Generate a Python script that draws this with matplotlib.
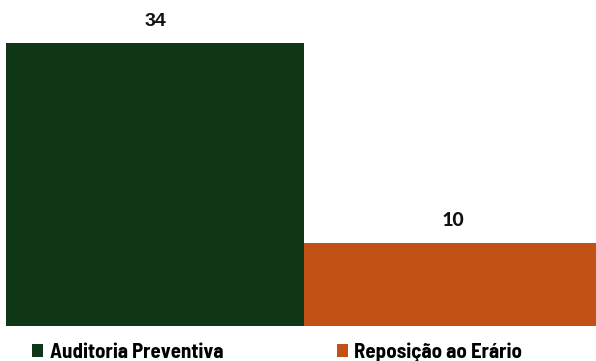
import matplotlib
matplotlib.use("Agg")
import matplotlib.pyplot as plt
from matplotlib.patches import Patch

categories = ["Auditoria Preventiva", "Reposição ao Erário"]
values = [34, 10]
colors = ["#0f3616", "#c25116"]

W, H = 596, 361
fig = plt.figure(figsize=(W / 100, H / 100), dpi=100)
ax = fig.add_axes([6 / W, 35 / H, 596 / W, 326 / H])

x = list(range(len(categories)))
bars = ax.bar(x, values, width=1.0, color=colors)
ax.set_xlim(-0.5, len(categories) - 0.5)
ax.set_ylim(0, 326 / 8.32)
ax.axis("off")

label_styles = [("Liberation Sans", 14), ("Carlito", 16)]
for b, v, (fam, sz) in zip(bars, values, label_styles):
    ax.annotate(str(v), (b.get_x() + b.get_width() / 2, b.get_height()),
                xytext=(0, 12), textcoords="offset points",
                ha="center", va="baseline", fontsize=sz, fontweight="bold",
                family=[fam, "Liberation Sans"], color="#111111")

handles = [Patch(facecolor=c, edgecolor="none") for c in colors]
fig.legend(handles, categories, loc="center left",
           bbox_to_anchor=(32 / W, 1 - 352 / H), ncol=2, frameon=False,
           prop={"family": "Barlow Semi Condensed", "weight": 700, "size": 15},
           handlelength=0.55, handleheight=0.55, handletextpad=0.3,
           columnspacing=5.45, borderpad=0, borderaxespad=0)

fig.savefig("out.png", dpi=100)
